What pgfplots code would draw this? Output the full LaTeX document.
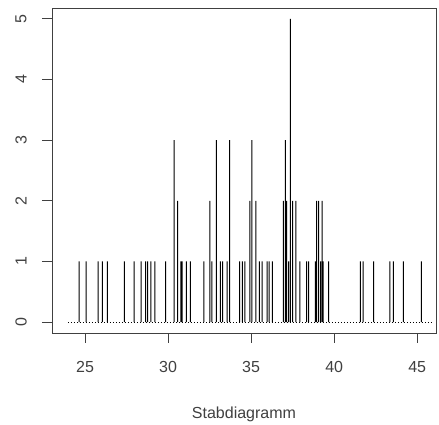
\documentclass[border=0pt]{standalone}
\usepackage{pgfplots}
\pgfplotsset{compat=1.18}
\usepackage{fontspec}
\setmainfont{Liberation Sans}
\begin{document}
\begin{tikzpicture}
\begin{axis}[
    name=ax,
    scale only axis,
    width=384pt, height=325pt,
    xmin=23.01, xmax=46.13,
    ymin=-0.18, ymax=5.18,
    xtick={25,30,35,40,45},
    ytick={0,1,2,3,4,5},
    tick align=outside,
    tick pos=left,
    major tick length=10pt,
    axis line style={line width=0.9pt, black!75},
    every tick/.style={line width=0.9pt, black!75},
    font=\fontsize{16}{19}\selectfont,
    /pgf/number format/assume math mode=true,
    xticklabel style={anchor=center, yshift=-24pt, text=black!75},
    yticklabel style={xshift=-21pt, rotate=90, anchor=center, text=black!75},
    xlabel={Stabdiagramm},
    xlabel style={at={(axis description cs:0.5,0)}, anchor=center, yshift=-81pt, text=black!75},
]
% Stabdiagramm: Haeufigkeit je Messwert
\addplot[ybar, bar width=1pt, fill=black, draw=none] table {
x y
24.64 1
25.06 1
25.78 1
26.05 1
26.35 1
27.37 1
27.96 1
28.38 1
28.65 1
28.77 1
28.97 1
29.21 1
29.85 1
30.37 3
30.57 2
30.77 1
30.85 1
31.10 1
31.34 1
32.15 1
32.51 2
32.63 1
32.90 3
33.15 1
33.29 1
33.55 1
33.71 3
34.31 1
34.47 1
34.63 1
34.92 2
35.04 3
35.28 2
35.49 1
35.66 1
35.96 1
36.09 1
36.28 1
36.94 2
37.06 3
37.14 2
37.26 1
37.36 5
37.50 2
37.70 2
37.94 1
38.34 1
38.46 1
38.87 1
38.94 2
39.06 2
39.18 1
39.27 2
39.34 1
39.66 1
41.57 1
41.74 1
42.37 1
43.36 1
43.56 1
44.17 1
45.25 1
};
% Grundlinie
\addplot[black, line width=0.8pt, dash pattern=on 1pt off 2pt] coordinates {(23.96,0) (45.91,0)};
\end{axis}
\pgfresetboundingbox
\path ([shift={(-52pt,-92pt)}]ax.south west) rectangle ([shift={(3pt,8pt)}]ax.north east);
\end{tikzpicture}
\end{document}
